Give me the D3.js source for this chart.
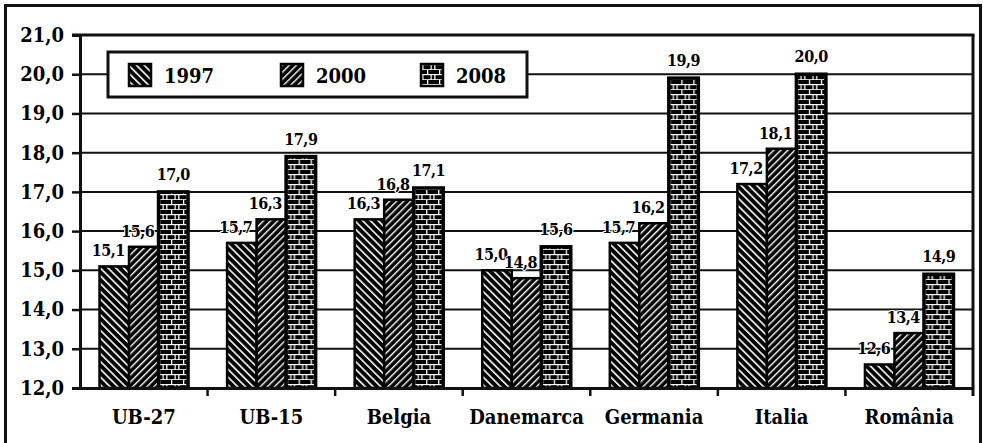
<!DOCTYPE html>
<html><head><meta charset="utf-8">
<script src="https://cdn.jsdelivr.net/npm/d3@7"></script>
<style>
html,body{margin:0;padding:0;background:#fff;}
svg{display:block;}
text{font-family:"DejaVu Serif Condensed","DejaVu Serif",serif;font-stretch:condensed;font-weight:bold;fill:#000;}
</style></head>
<body>
<script>
const categories = ["UB-27","UB-15","Belgia","Danemarca","Germania","Italia","România"];
const years = ["1997","2000","2008"];
const v1997 = [15.1,15.7,16.3,15.0,15.7,17.2,12.6];
const v2000 = [15.6,16.3,16.8,14.8,16.2,18.1,13.4];
const v2008 = [17.0,17.9,17.1,15.6,19.9,20.0,14.9];
const yTicks = [12,13,14,15,16,17,18,19,20,21];

const W=983,H=443;
const svg=d3.select("body").append("svg").attr("width",W).attr("height",H);
const defs=svg.append("defs");

function stripe(id,size,white,angle){
  const p=defs.append("pattern").attr("id",id).attr("patternUnits","userSpaceOnUse")
    .attr("width",size).attr("height",size).attr("patternTransform",`rotate(${angle})`);
  p.append("rect").attr("width",size).attr("height",size).attr("fill","#000");
  p.append("rect").attr("x",0).attr("width",white).attr("height",size).attr("fill","#fff");
}
stripe("p1997",5.5,1.6,-45);
stripe("p2000",5,1.4,45);
(function(){
  const p=defs.append("pattern").attr("id","p2008").attr("patternUnits","userSpaceOnUse")
    .attr("width",12).attr("height",10);
  p.append("rect").attr("width",12).attr("height",10).attr("fill","#fff");
  const r=[[0,0,7,4],[8.3,0,3.7,4],[3.5,5.2,7,4],[-1,5.2,3.2,4],[11.7,5.2,1,4]];
  r.forEach(d=>p.append("rect").attr("x",d[0]).attr("y",d[1]).attr("width",d[2]).attr("height",d[3]).attr("fill","#000"));
})();
const fills={"1997":"url(#p1997)","2000":"url(#p2000)","2008":"url(#p2008)"};

// outer border
svg.append("rect").attr("x",5.5).attr("y",5.5).attr("width",975).attr("height",460)
  .attr("fill","none").attr("stroke","#111").attr("stroke-width",3);

const L=80,R=973,T=35,B=388;
const y=d3.scaleLinear().domain([12,21]).range([B,T]);
const x0=d3.scaleBand().domain(categories).range([L,R]).padding(0);
const bw=x0.bandwidth();
const x1=d3.scaleBand().domain(years).range([bw*0.153,bw*0.847]).padding(0);

// gridlines
svg.append("g").selectAll("line").data(yTicks.filter(t=>t>12&&t<21)).join("line")
  .attr("x1",L).attr("x2",R).attr("y1",d=>y(d)).attr("y2",d=>y(d))
  .attr("stroke","#111").attr("stroke-width",2);

// legend
const lg=svg.append("g");
lg.append("rect").attr("x",108).attr("y",52).attr("width",419).attr("height",45)
  .attr("fill","#fff").attr("stroke","#111").attr("stroke-width",3);
const legX=[129,281,421];
years.forEach((yr,i)=>{
  lg.append("rect").attr("x",legX[i]).attr("y",64).attr("width",22).attr("height",22)
    .attr("fill",fills[yr]).attr("stroke","#000").attr("stroke-width",2.5);
  lg.append("text").attr("x",legX[i]+35).attr("y",83).attr("font-size",20).text(yr);
});

// bars
const data=categories.map((c,i)=>({c,vals:[v1997[i],v2000[i],v2008[i]]}));
const groups=svg.append("g").selectAll("g").data(data).join("g")
  .attr("transform",d=>`translate(${x0(d.c)},0)`);
groups.selectAll("rect").data(d=>d.vals.map((v,j)=>({yr:years[j],v}))).join("rect")
  .attr("x",d=>x1(d.yr)).attr("width",x1.bandwidth())
  .attr("y",d=>y(d.v)).attr("height",d=>B-y(d.v))
  .attr("fill",d=>fills[d.yr]).attr("stroke","#000")
  .attr("stroke-width",d=>d.yr==="2008"?3.5:2.5);
groups.selectAll("text").data(d=>d.vals.map((v,j)=>({yr:years[j],v}))).join("text")
  .attr("x",d=>x1(d.yr)+x1.bandwidth()/2+(d.yr==="2008"?0:-6))
  .attr("y",d=>y(d.v)-(d.yr==="2008"?12:10))
  .attr("text-anchor","middle").attr("font-size",16).attr("letter-spacing",-0.5)
  .attr("stroke","#fff").attr("stroke-width",2).attr("paint-order","stroke")
  .text(d=>d3.format(".1f")(d.v).replace(".",","));

// frame + axes
svg.append("line").attr("x1",L-8).attr("x2",R+1.5).attr("y1",T).attr("y2",T).attr("stroke","#111").attr("stroke-width",3);
svg.append("line").attr("x1",R).attr("x2",R).attr("y1",T).attr("y2",B+8).attr("stroke","#111").attr("stroke-width",3);

const yAxis=d3.axisLeft(y).tickValues(yTicks).tickSize(8).tickPadding(8)
  .tickFormat(d=>d3.format(".1f")(d).replace(".",","));
const ga=svg.append("g").attr("transform",`translate(${L},0)`).call(yAxis);
ga.select(".domain").attr("stroke","#111").attr("stroke-width",3);
ga.selectAll(".tick line").attr("stroke","#111").attr("stroke-width",2.5);
ga.selectAll(".tick text").attr("font-size",20).attr("font-family",null);

const xAxis=d3.axisBottom(x0).tickSize(0).tickPadding(22);
const gx=svg.append("g").attr("transform",`translate(0,${B})`).call(xAxis);
gx.select(".domain").attr("stroke","#111").attr("stroke-width",3);
gx.selectAll(".tick text").attr("font-size",20).attr("font-family",null);
// category boundary ticks
svg.append("g").selectAll("line").data(categories.slice(1)).join("line")
  .attr("x1",d=>x0(d)).attr("x2",d=>x0(d)).attr("y1",B).attr("y2",B+8)
  .attr("stroke","#111").attr("stroke-width",2.5);
</script>
</body></html>
